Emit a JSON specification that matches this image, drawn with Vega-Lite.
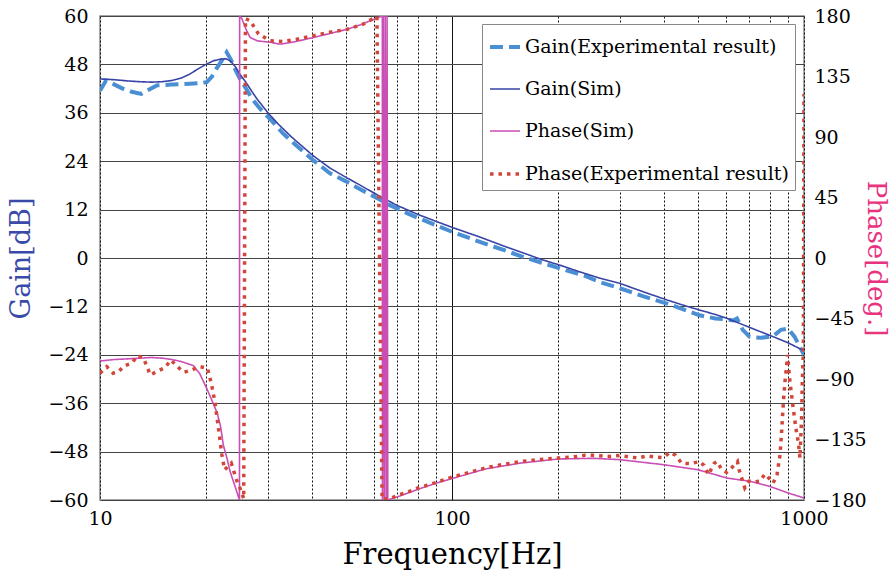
{
  "$schema": "https://vega.github.io/schema/vega-lite/v6.json",
  "width": 704,
  "height": 484,
  "autosize": {"type": "none"},
  "padding": {"left": 100, "top": 16, "right": 92, "bottom": 79},
  "background": "white",
  "config": {
    "view": {"stroke": "#888888", "strokeWidth": 1.5},
    "font": "DejaVu Serif",
    "axis": {"labelFont": "DejaVu Serif", "titleFont": "DejaVu Serif", "labelColor": "black", "titleFontWeight": "normal", "labelFontSize": 19, "titleFontSize": 27, "domain": false, "ticks": false}
  },
  "data": {"values": [
    {"s": "GE", "f": 10, "v": 41.5}, {"s": "GE", "f": 10.4, "v": 44.0}, {"s": "GE", "f": 11, "v": 43.0}, {"s": "GE", "f": 11.6, "v": 42.0}, {"s": "GE", "f": 12.3, "v": 41.2}, {"s": "GE", "f": 13.1, "v": 40.7}, {"s": "GE", "f": 13.8, "v": 41.8}, {"s": "GE", "f": 14.5, "v": 42.8}, {"s": "GE", "f": 16, "v": 43.0}, {"s": "GE", "f": 18, "v": 43.2}, {"s": "GE", "f": 19.5, "v": 43.4}, {"s": "GE", "f": 20.1, "v": 43.6}, {"s": "GE", "f": 20.8, "v": 45.0}, {"s": "GE", "f": 21.4, "v": 46.9}, {"s": "GE", "f": 22.2, "v": 49.0}, {"s": "GE", "f": 22.9, "v": 51.0}, {"s": "GE", "f": 23.6, "v": 49.0}, {"s": "GE", "f": 24.3, "v": 46.5}, {"s": "GE", "f": 25, "v": 44.4}, {"s": "GE", "f": 26, "v": 42.0}, {"s": "GE", "f": 27, "v": 39.5}, {"s": "GE", "f": 28.5, "v": 37.0}, {"s": "GE", "f": 30.4, "v": 34.5}, {"s": "GE", "f": 33, "v": 31.0}, {"s": "GE", "f": 36, "v": 28.0}, {"s": "GE", "f": 40.4, "v": 24.2}, {"s": "GE", "f": 45, "v": 21.0}, {"s": "GE", "f": 50, "v": 19.0}, {"s": "GE", "f": 55, "v": 17.0}, {"s": "GE", "f": 62.3, "v": 14.5}, {"s": "GE", "f": 66.6, "v": 13.1}, {"s": "GE", "f": 75, "v": 11.0}, {"s": "GE", "f": 85, "v": 9.0}, {"s": "GE", "f": 100, "v": 6.5}, {"s": "GE", "f": 120, "v": 4.0}, {"s": "GE", "f": 140, "v": 2.0}, {"s": "GE", "f": 160, "v": 0.2}, {"s": "GE", "f": 203, "v": -2.6}, {"s": "GE", "f": 240, "v": -4.5}, {"s": "GE", "f": 263, "v": -6.0}, {"s": "GE", "f": 300, "v": -7.5}, {"s": "GE", "f": 350, "v": -9.5}, {"s": "GE", "f": 408, "v": -11.3}, {"s": "GE", "f": 450, "v": -12.6}, {"s": "GE", "f": 505, "v": -14.2}, {"s": "GE", "f": 560, "v": -15.0}, {"s": "GE", "f": 600, "v": -15.2}, {"s": "GE", "f": 630, "v": -15.5}, {"s": "GE", "f": 645, "v": -15.0}, {"s": "GE", "f": 670, "v": -17.8}, {"s": "GE", "f": 700, "v": -19.5}, {"s": "GE", "f": 750, "v": -19.8}, {"s": "GE", "f": 817, "v": -19.4}, {"s": "GE", "f": 860, "v": -17.8}, {"s": "GE", "f": 900, "v": -17.5}, {"s": "GE", "f": 940, "v": -19.5}, {"s": "GE", "f": 1000, "v": -24.0},
    {"s": "GS", "f": 10, "v": 44.4}, {"s": "GS", "f": 11, "v": 44.2}, {"s": "GS", "f": 12, "v": 43.9}, {"s": "GS", "f": 13, "v": 43.7}, {"s": "GS", "f": 14, "v": 43.6}, {"s": "GS", "f": 15, "v": 43.7}, {"s": "GS", "f": 16, "v": 44.0}, {"s": "GS", "f": 17, "v": 44.6}, {"s": "GS", "f": 18, "v": 45.6}, {"s": "GS", "f": 19, "v": 46.9}, {"s": "GS", "f": 20, "v": 48.0}, {"s": "GS", "f": 21, "v": 48.9}, {"s": "GS", "f": 22, "v": 49.3}, {"s": "GS", "f": 22.8, "v": 49.4}, {"s": "GS", "f": 23.5, "v": 48.8}, {"s": "GS", "f": 24.3, "v": 47.3}, {"s": "GS", "f": 25, "v": 45.5}, {"s": "GS", "f": 26, "v": 43.5}, {"s": "GS", "f": 27, "v": 41.3}, {"s": "GS", "f": 28, "v": 39.3}, {"s": "GS", "f": 30, "v": 36.0}, {"s": "GS", "f": 32, "v": 33.3}, {"s": "GS", "f": 35, "v": 30.0}, {"s": "GS", "f": 38, "v": 27.3}, {"s": "GS", "f": 40.4, "v": 25.3}, {"s": "GS", "f": 45, "v": 22.3}, {"s": "GS", "f": 50, "v": 20.0}, {"s": "GS", "f": 55, "v": 18.0}, {"s": "GS", "f": 62.3, "v": 15.3}, {"s": "GS", "f": 70, "v": 13.0}, {"s": "GS", "f": 80, "v": 10.8}, {"s": "GS", "f": 90, "v": 9.1}, {"s": "GS", "f": 100, "v": 7.6}, {"s": "GS", "f": 120, "v": 5.2}, {"s": "GS", "f": 140, "v": 3.0}, {"s": "GS", "f": 160, "v": 1.2}, {"s": "GS", "f": 180, "v": -0.4}, {"s": "GS", "f": 203, "v": -1.8}, {"s": "GS", "f": 230, "v": -3.4}, {"s": "GS", "f": 263, "v": -5.0}, {"s": "GS", "f": 300, "v": -6.3}, {"s": "GS", "f": 350, "v": -8.4}, {"s": "GS", "f": 408, "v": -10.4}, {"s": "GS", "f": 450, "v": -11.6}, {"s": "GS", "f": 505, "v": -12.9}, {"s": "GS", "f": 560, "v": -14.0}, {"s": "GS", "f": 606, "v": -15.0}, {"s": "GS", "f": 700, "v": -17.2}, {"s": "GS", "f": 817, "v": -19.5}, {"s": "GS", "f": 900, "v": -21.0}, {"s": "GS", "f": 1000, "v": -23.0},
    {"s": "PS", "f": 10, "v": -76.6}, {"s": "PS", "f": 11, "v": -75.5}, {"s": "PS", "f": 12, "v": -75}, {"s": "PS", "f": 13, "v": -74.5}, {"s": "PS", "f": 14, "v": -74}, {"s": "PS", "f": 15, "v": -74.5}, {"s": "PS", "f": 16, "v": -75.5}, {"s": "PS", "f": 17, "v": -77}, {"s": "PS", "f": 18.4, "v": -80}, {"s": "PS", "f": 19.2, "v": -86}, {"s": "PS", "f": 20.1, "v": -97}, {"s": "PS", "f": 20.8, "v": -106}, {"s": "PS", "f": 21.5, "v": -115}, {"s": "PS", "f": 22, "v": -125}, {"s": "PS", "f": 22.4, "v": -139}, {"s": "PS", "f": 23, "v": -150}, {"s": "PS", "f": 23.4, "v": -158.5}, {"s": "PS", "f": 24.2, "v": -170}, {"s": "PS", "f": 24.9, "v": -180}, {"s": "PS", "f": 24.93, "v": 180}, {"s": "PS", "f": 25.3, "v": 178}, {"s": "PS", "f": 26, "v": 170}, {"s": "PS", "f": 26.7, "v": 164}, {"s": "PS", "f": 28, "v": 161.5}, {"s": "PS", "f": 30.4, "v": 160.5}, {"s": "PS", "f": 32.5, "v": 159}, {"s": "PS", "f": 36, "v": 161}, {"s": "PS", "f": 40.4, "v": 164}, {"s": "PS", "f": 45, "v": 167}, {"s": "PS", "f": 50.2, "v": 170}, {"s": "PS", "f": 55, "v": 173.5}, {"s": "PS", "f": 61.2, "v": 178.5}, {"s": "PS", "f": 63.4, "v": 180}, {"s": "PS", "f": 63.45, "v": -180}, {"s": "PS", "f": 63.8, "v": 180}, {"s": "PS", "f": 64.2, "v": -180}, {"s": "PS", "f": 64.6, "v": 180}, {"s": "PS", "f": 65, "v": -180}, {"s": "PS", "f": 65.4, "v": 180}, {"s": "PS", "f": 65.7, "v": -180}, {"s": "PS", "f": 71.1, "v": -177}, {"s": "PS", "f": 80.2, "v": -172}, {"s": "PS", "f": 90.3, "v": -167.4}, {"s": "PS", "f": 101, "v": -163.7}, {"s": "PS", "f": 125, "v": -156.8}, {"s": "PS", "f": 156, "v": -152.6}, {"s": "PS", "f": 200, "v": -149.5}, {"s": "PS", "f": 252, "v": -149}, {"s": "PS", "f": 300, "v": -150}, {"s": "PS", "f": 401, "v": -153.8}, {"s": "PS", "f": 500, "v": -157.5}, {"s": "PS", "f": 605, "v": -163.7}, {"s": "PS", "f": 700, "v": -166}, {"s": "PS", "f": 800, "v": -169.9}, {"s": "PS", "f": 902, "v": -174.8}, {"s": "PS", "f": 1000, "v": -178.5},
    {"s": "PE", "f": 10, "v": -85.7}, {"s": "PE", "f": 10.45, "v": -80.8}, {"s": "PE", "f": 10.9, "v": -85.7}, {"s": "PE", "f": 11.3, "v": -84.5}, {"s": "PE", "f": 11.7, "v": -80.3}, {"s": "PE", "f": 12.3, "v": -78.3}, {"s": "PE", "f": 12.8, "v": -72.6}, {"s": "PE", "f": 13.3, "v": -74.6}, {"s": "PE", "f": 13.9, "v": -87}, {"s": "PE", "f": 14.5, "v": -84.5}, {"s": "PE", "f": 15.3, "v": -81.5}, {"s": "PE", "f": 15.9, "v": -75.9}, {"s": "PE", "f": 16.6, "v": -80.8}, {"s": "PE", "f": 17.3, "v": -85}, {"s": "PE", "f": 18.2, "v": -83.3}, {"s": "PE", "f": 19.2, "v": -80.8}, {"s": "PE", "f": 20.2, "v": -82}, {"s": "PE", "f": 20.7, "v": -93}, {"s": "PE", "f": 21.2, "v": -106.8}, {"s": "PE", "f": 21.7, "v": -126.6}, {"s": "PE", "f": 22.2, "v": -146.4}, {"s": "PE", "f": 22.6, "v": -157.5}, {"s": "PE", "f": 23.6, "v": -152.6}, {"s": "PE", "f": 24.0, "v": -158.7}, {"s": "PE", "f": 24.5, "v": -166}, {"s": "PE", "f": 24.9, "v": -170}, {"s": "PE", "f": 25.3, "v": -175}, {"s": "PE", "f": 25.6, "v": -179}, {"s": "PE", "f": 25.9, "v": 178}, {"s": "PE", "f": 26.7, "v": 176.5}, {"s": "PE", "f": 28.2, "v": 166.6}, {"s": "PE", "f": 30.4, "v": 161.7}, {"s": "PE", "f": 33, "v": 161}, {"s": "PE", "f": 36, "v": 162.5}, {"s": "PE", "f": 40.4, "v": 165.4}, {"s": "PE", "f": 45, "v": 168}, {"s": "PE", "f": 50.2, "v": 170}, {"s": "PE", "f": 56, "v": 174}, {"s": "PE", "f": 60.5, "v": 179}, {"s": "PE", "f": 61.2, "v": 179.5}, {"s": "PE", "f": 63.3, "v": -179.5}, {"s": "PE", "f": 65, "v": -179}, {"s": "PE", "f": 67.3, "v": -178.5}, {"s": "PE", "f": 71, "v": -176}, {"s": "PE", "f": 75, "v": -174}, {"s": "PE", "f": 80, "v": -171}, {"s": "PE", "f": 85, "v": -169}, {"s": "PE", "f": 90, "v": -167}, {"s": "PE", "f": 100, "v": -163}, {"s": "PE", "f": 110, "v": -160}, {"s": "PE", "f": 125, "v": -156}, {"s": "PE", "f": 140, "v": -153.5}, {"s": "PE", "f": 156, "v": -151.5}, {"s": "PE", "f": 175, "v": -150}, {"s": "PE", "f": 200, "v": -148.8}, {"s": "PE", "f": 220, "v": -148}, {"s": "PE", "f": 239, "v": -146.8}, {"s": "PE", "f": 252, "v": -146.8}, {"s": "PE", "f": 283, "v": -147.6}, {"s": "PE", "f": 300, "v": -146.8}, {"s": "PE", "f": 320, "v": -148}, {"s": "PE", "f": 338, "v": -148.8}, {"s": "PE", "f": 358, "v": -147.2}, {"s": "PE", "f": 378, "v": -148}, {"s": "PE", "f": 398, "v": -148.4}, {"s": "PE", "f": 417, "v": -144.4}, {"s": "PE", "f": 432, "v": -146.8}, {"s": "PE", "f": 449, "v": -152.6}, {"s": "PE", "f": 476, "v": -153}, {"s": "PE", "f": 505, "v": -151.4}, {"s": "PE", "f": 520, "v": -154.2}, {"s": "PE", "f": 535, "v": -161.2}, {"s": "PE", "f": 556, "v": -152.6}, {"s": "PE", "f": 566, "v": -151.4}, {"s": "PE", "f": 584, "v": -157.5}, {"s": "PE", "f": 603, "v": -159.5}, {"s": "PE", "f": 629, "v": -155}, {"s": "PE", "f": 647, "v": -151.4}, {"s": "PE", "f": 654, "v": -157.5}, {"s": "PE", "f": 679, "v": -171}, {"s": "PE", "f": 699, "v": -166}, {"s": "PE", "f": 726, "v": -166.5}, {"s": "PE", "f": 750, "v": -166}, {"s": "PE", "f": 774, "v": -160.7}, {"s": "PE", "f": 795, "v": -163.8}, {"s": "PE", "f": 817, "v": -167.4}, {"s": "PE", "f": 838, "v": -161.2}, {"s": "PE", "f": 855, "v": -146.4}, {"s": "PE", "f": 864, "v": -129}, {"s": "PE", "f": 874, "v": -106.8}, {"s": "PE", "f": 883, "v": -92}, {"s": "PE", "f": 893, "v": -79.6}, {"s": "PE", "f": 898, "v": -72}, {"s": "PE", "f": 912, "v": -92}, {"s": "PE", "f": 932, "v": -111.7}, {"s": "PE", "f": 948, "v": -126.6}, {"s": "PE", "f": 963, "v": -136.5}, {"s": "PE", "f": 974, "v": -148.8}, {"s": "PE", "f": 985, "v": -116.7}, {"s": "PE", "f": 989, "v": -92}, {"s": "PE", "f": 996, "v": -69.6}, {"s": "PE", "f": 1000, "v": 122}
  ]},
  "encoding": {
    "x": {
      "field": "f", "type": "quantitative",
      "scale": {"type": "log", "domain": [10, 1000]},
      "axis": {
        "values": [10, 20, 30, 40, 50, 60, 70, 80, 90, 100, 200, 300, 400, 500, 600, 700, 800, 900, 1000],
        "labelExpr": "(datum.value == 10 || datum.value == 100 || datum.value == 1000) ? datum.value : ''",
        "grid": true, "gridColor": "#111111", "gridWidth": 1,
        "gridDash": {"condition": {"test": "datum.value == 100", "value": []}, "value": [2, 2]},
        "labelPadding": 9, "labelFlush": false,
        "title": "Frequency[Hz]", "titleColor": "black", "titlePadding": 12, "titleFontSize": 29
      }
    },
    "color": {"field": "s", "type": "nominal",
      "scale": {"domain": ["GE", "GS", "PS", "PE"], "range": ["#4a8fd4", "#3744a6", "#c94fb6", "#d2463a"]},
      "legend": {"orient": "none", "legendX": 382, "legendY": 8, "direction": "vertical", "title": null, "labelFont": "DejaVu Serif", "labelFontSize": 19, "labelColor": "black", "symbolType": "stroke", "symbolSize": 900, "strokeColor": "#888888", "fillColor": "white", "padding": 6, "rowPadding": 16, "labelOffset": 3, "labelLimit": 400,
        "labelExpr": "datum.value == 'GE' ? 'Gain(Experimental result)' : datum.value == 'GS' ? 'Gain(Sim)' : datum.value == 'PS' ? 'Phase(Sim)' : 'Phase(Experimental result)'"}},
    "strokeDash": {"field": "s", "type": "nominal",
      "scale": {"domain": ["GE", "GS", "PS", "PE"], "range": [[13, 6], [1, 0], [1, 0], [3.5, 5]]},
      "legend": {"orient": "none", "legendX": 382, "legendY": 8, "direction": "vertical", "title": null, "labelFont": "DejaVu Serif", "labelFontSize": 19, "labelColor": "black", "symbolType": "stroke", "symbolSize": 900, "strokeColor": "#888888", "fillColor": "white", "padding": 6, "rowPadding": 16, "labelOffset": 3, "labelLimit": 400,
        "labelExpr": "datum.value == 'GE' ? 'Gain(Experimental result)' : datum.value == 'GS' ? 'Gain(Sim)' : datum.value == 'PS' ? 'Phase(Sim)' : 'Phase(Experimental result)'"}},
    "strokeWidth": {"field": "s", "type": "nominal",
      "scale": {"type": "ordinal", "domain": ["GE", "GS", "PS", "PE"], "range": [4, 1.6, 1.6, 3.5]},
      "legend": {"orient": "none", "legendX": 382, "legendY": 8, "direction": "vertical", "title": null, "labelFont": "DejaVu Serif", "labelFontSize": 19, "labelColor": "black", "symbolType": "stroke", "symbolSize": 900, "strokeColor": "#888888", "fillColor": "white", "padding": 6, "rowPadding": 16, "labelOffset": 3, "labelLimit": 400,
        "labelExpr": "datum.value == 'GE' ? 'Gain(Experimental result)' : datum.value == 'GS' ? 'Gain(Sim)' : datum.value == 'PS' ? 'Phase(Sim)' : 'Phase(Experimental result)'"}}
  },
  "layer": [
    {
      "encoding": {
        "y": {
          "field": "v", "type": "quantitative",
          "scale": {"domain": [-60, 60], "nice": false, "zero": false},
          "axis": {
            "orient": "left", "values": [-60, -48, -36, -24, -12, 0, 12, 24, 36, 48, 60],
            "grid": true, "gridColor": "#444444", "gridWidth": 1,
            "labelPadding": 12, "title": "Gain[dB]", "titleColor": "#3a4aa8", "titlePadding": 12
          }
        }
      },
      "layer": [
        {"transform": [{"filter": "datum.s == 'GE'"}], "mark": {"type": "line", "strokeCap": "butt", "clip": true}},
        {"transform": [{"filter": "datum.s == 'GS'"}], "mark": {"type": "line", "strokeCap": "butt", "clip": true}}
      ]
    },
    {
      "encoding": {
        "y": {
          "field": "v", "type": "quantitative",
          "scale": {"domain": [-180, 180], "nice": false, "zero": false},
          "axis": {
            "orient": "right", "values": [-180, -135, -90, -45, 0, 45, 90, 135, 180],
            "grid": false, "labelPadding": 10, "title": "Phase[deg.]", "titleColor": "#e8337f", "titlePadding": -4, "titleFontSize": 26
          }
        }
      },
      "layer": [
        {"transform": [{"filter": "datum.s == 'PS'"}], "mark": {"type": "line", "strokeCap": "butt", "clip": true}},
        {"transform": [{"filter": "datum.s == 'PE'"}], "mark": {"type": "line", "strokeCap": "butt", "clip": true}}
      ]
    }
  ],
  "resolve": {"scale": {"y": "independent"}}
}
